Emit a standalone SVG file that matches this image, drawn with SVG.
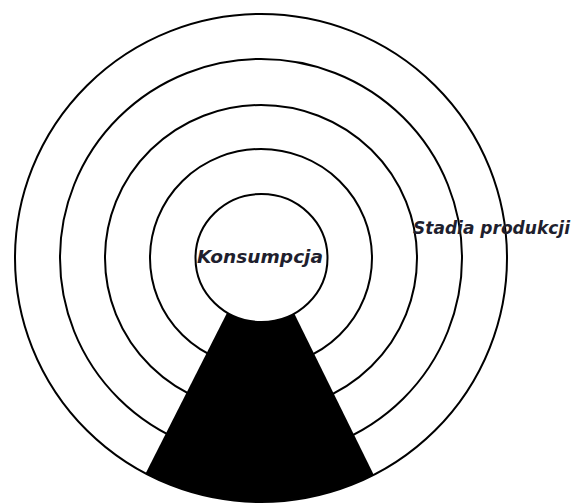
<svg xmlns="http://www.w3.org/2000/svg" width="576" height="504" viewBox="0 0 576 504">
  <style>
    .ring { fill: none; stroke: #000; stroke-width: 2; }
    .lbl { font-family: "DejaVu Sans", "Liberation Sans", sans-serif; font-weight: bold; font-style: italic; fill: #1f1f2e; }
  </style>
  <defs>
    <clipPath id="outerClip">
      <ellipse cx="261" cy="258" rx="246" ry="244"/>
    </clipPath>
  </defs>
  <rect x="0" y="0" width="576" height="504" fill="#fff"/>
  <g id="ring5"><ellipse class="ring" cx="261" cy="258" rx="246" ry="244"/></g>
  <g id="ring4"><ellipse class="ring" cx="261" cy="258" rx="201" ry="199"/></g>
  <g id="ring3"><ellipse class="ring" cx="261" cy="258" rx="156" ry="153"/></g>
  <g id="ring2"><ellipse class="ring" cx="261" cy="258" rx="111" ry="109"/></g>
  <g id="wedge">
    <polygon points="261,246 122,520 396,520" fill="#000" clip-path="url(#outerClip)"/>
  </g>
  <g id="konsumpcja">
    <ellipse cx="261.5" cy="258" rx="66" ry="64" fill="#fff" stroke="#000" stroke-width="2"/>
    <text class="lbl" x="197" y="263" font-size="18" textLength="126" lengthAdjust="spacingAndGlyphs">Konsumpcja</text>
  </g>
  <g id="stadia">
    <text class="lbl" x="413" y="234" font-size="17" textLength="157" lengthAdjust="spacingAndGlyphs">Stadia produkcji</text>
  </g>
  <g id="connectors"></g>
</svg>
